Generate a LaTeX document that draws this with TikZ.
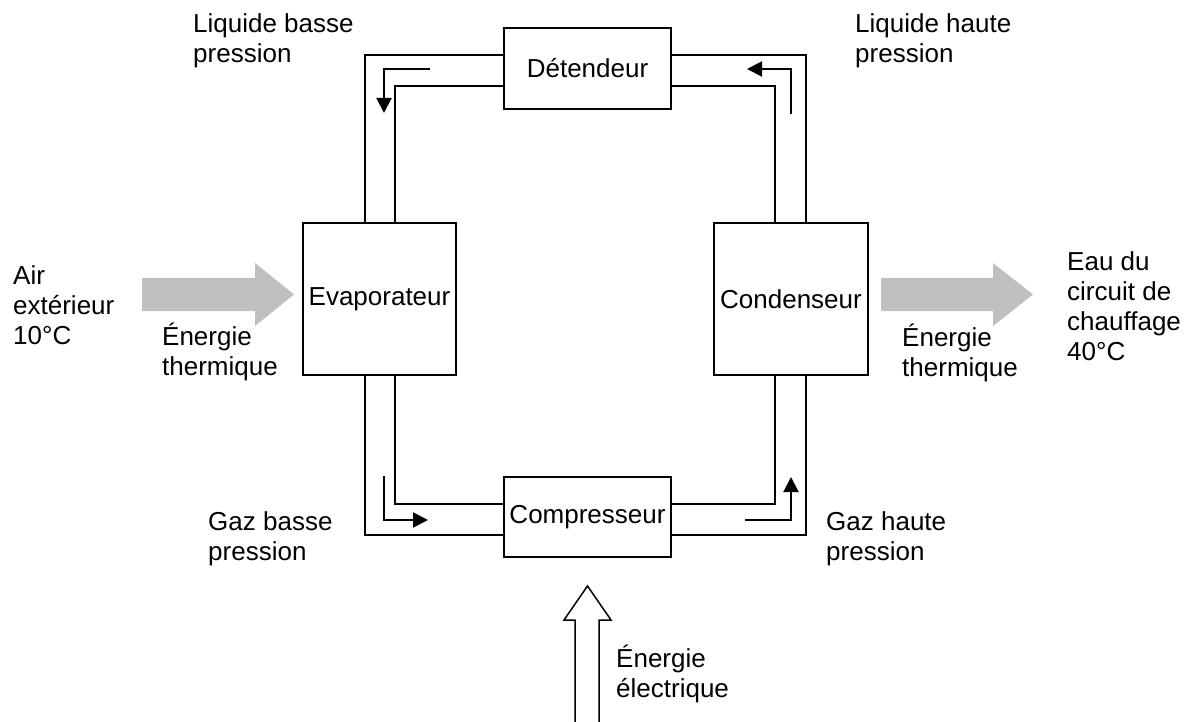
\documentclass[tikz,border=0pt]{standalone}
\usepackage{fontspec}
\setmainfont{Liberation Sans}
\usetikzlibrary{arrows.meta}
\definecolor{heatgray}{HTML}{C0C0C0}
\begin{document}
\begin{tikzpicture}[x=1pt,y=-1pt,
  unit/.style={draw, line width=1.5pt, inner sep=0pt, outer sep=0pt,
    font=\fontsize{26}{30}\selectfont},
  lbl/.style={anchor=base west, align=left, inner sep=0pt,
    font=\fontsize{26}{30}\selectfont},
  pipe/.style={line width=1.5pt},
  flow/.style={line width=2pt, -{Triangle[length=15pt,width=15pt]}},
  heat/.style={fill=heatgray, draw=none},
  work/.style={draw, line width=1.5pt, fill=white, line join=miter}]
\useasboundingbox (0,0) rectangle (1192,722);

% components of the cycle
\node[unit, minimum width=167pt, minimum height=81pt] (det) at (587.5,68.5) {Détendeur};
\node[unit, minimum width=167pt, minimum height=80pt] (comp) at (587.5,517) {Compresseur};
\node[unit, minimum width=153pt, minimum height=152pt] (evap) at (379.5,299) {Evaporateur};
\node[unit, minimum width=154pt, minimum height=152pt] (cond) at (791,299) {Condenseur};

% pipe walls (outer and inner lines)
\coordinate (oL) at (365,55);
\coordinate (iL) at (395,86);
\coordinate (oR) at (806,55);
\coordinate (iR) at (775,86);
\coordinate (oB) at (365,535);
\coordinate (iB) at (395,504);

\draw[pipe] (evap.north -| oL) |- (det.west |- oL);
\draw[pipe] (evap.north -| iL) |- (det.west |- iL);
\draw[pipe] (det.east |- oR) -| (cond.north -| oR);
\draw[pipe] (det.east |- iR) -| (cond.north -| iR);
\draw[pipe] (evap.south -| oL) |- (comp.west |- oB);
\draw[pipe] (evap.south -| iL) |- (comp.west |- iB);
\draw[pipe] (comp.east |- oB) -| (cond.south -| oR);
\draw[pipe] (comp.east |- iB) -| (cond.south -| iR);

% direction of the refrigerant flow
\draw[flow] (430,69) -| (384,113);
\draw[flow] (791,114) |- (747,69);
\draw[flow] (384,476) |- (428,520);
\draw[flow] (745,520) -| (791,477);

% heat exchanged with the outside
\fill[heat] (142,278) -- (255,278) -- (255,263) -- (294,294.5) -- (255,326) -- (255,311) -- (142,311) -- cycle;
\fill[heat] (881,278) -- (993,278) -- (993,263) -- (1033,294.5) -- (993,326) -- (993,311) -- (881,311) -- cycle;

% electrical work into the compressor
\draw[work] (575,724) -- (575,620) -- (564,620) -- (587.5,586) -- (611,620) -- (599,620) -- (599,724);

% labels (anchored on the baseline of their last line)
\node[lbl] (t1) at (193,63) {Liquide basse\\pression};
\node[lbl] (t2) at (855,63) {Liquide haute\\pression};
\node[lbl] (t3) at (13,344) {Air\\extérieur\\10°C};
\node[lbl] (t4) at (162,375) {Énergie\\thermique};
\node[lbl] (t5) at (902,376) {Énergie\\thermique};
\node[lbl] (t6) at (1067,360) {Eau du\\circuit de\\chauffage\\40°C};
\node[lbl] (t7) at (208,560) {Gaz basse\\pression};
\node[lbl] (t8) at (826,560) {Gaz haute\\pression};
\node[lbl] (t9) at (616,697) {Énergie\\électrique};
\end{tikzpicture}
\end{document}
